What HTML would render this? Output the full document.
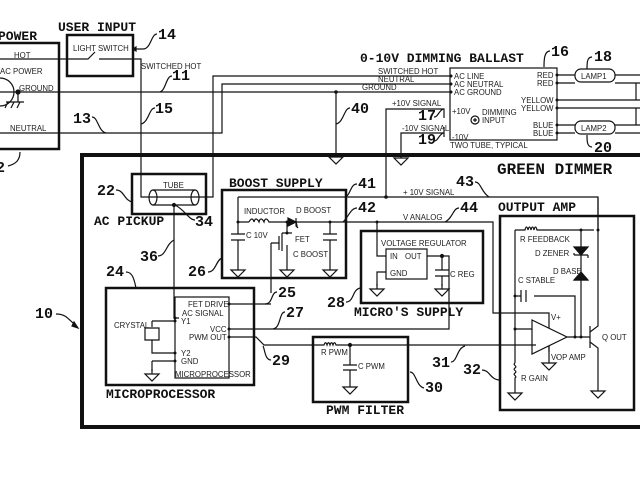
<!DOCTYPE html>
<html><head><meta charset="utf-8"><style>
html,body{margin:0;padding:0;background:#fff;width:640px;height:480px;overflow:hidden}
svg{display:block}
.t{font-family:"Liberation Mono",monospace;font-weight:bold;fill:#111}
.s{font-family:"Liberation Sans",sans-serif;fill:#222;font-size:7.8px}
.n{font-family:"Liberation Mono",monospace;font-weight:bold;font-size:15px;fill:#111}
</style></head><body>
<svg width="640" height="480" viewBox="0 0 640 480" xmlns="http://www.w3.org/2000/svg" fill="none" stroke="#111" stroke-width="1.2">
<defs>
<g id="gnd"><path d="M0 0v5M-7 5h14l-7 7z"/></g>
</defs>
<!-- AC power -->
<text class="t" x="-2" y="40" font-size="13" stroke="none">POWER</text>
<rect x="-5" y="43" width="64" height="106" stroke-width="2.5"/>
<circle cx="0" cy="92" r="14"/>
<circle cx="18" cy="92" r="2" fill="#111"/>
<path d="M18 92v10M6 102h18M8 102l-3 6M14 102l-3 6M20 102l-3 6"/>
<text class="s" x="14" y="58" stroke="none">HOT</text>
<text class="s" x="0" y="74" stroke="none">AC POWER</text>
<text class="s" x="19" y="91" stroke="none">GROUND</text>
<text class="s" x="10" y="131" stroke="none">NEUTRAL</text>
<text class="n" x="-4" y="172" stroke="none">2</text>
<path d="M8 166c8-2 12-6 12-14"/>
<!-- user input -->
<text class="t" x="58" y="31" font-size="13" stroke="none">USER INPUT</text>
<rect x="67" y="35" width="66" height="41" stroke-width="2.5"/>
<text class="s" x="73" y="51" stroke="none">LIGHT SWITCH</text>
<path d="M0 59h88l7-7M99 59h42V197h72V76h237M0 92h450M0 133h222V84h228"/>
<text class="n" x="158" y="39" stroke="none">14</text>
<path d="M157 34c-6 0-6 15-14 15h-8"/><path d="M136 47l-3 2 3 2z" fill="#111"/>
<text class="s" x="141" y="69" stroke="none">SWITCHED HOT</text>
<text class="n" x="172" y="80" stroke="none">11</text>
<path d="M172 76c-6 0-6 14-12 16"/>
<text class="n" x="155" y="113" stroke="none">15</text>
<path d="M155 108c-6 0-6 14-14 16"/>
<text class="n" x="73" y="123" stroke="none">13</text>
<path d="M92 117c6 0 6 14 14 16"/>
<!-- ballast -->
<text class="t" x="360" y="62" font-size="13" stroke="none">0-10V DIMMING BALLAST</text>
<rect x="450" y="68" width="107" height="72"/>
<text class="s" x="378" y="74" stroke="none">SWITCHED HOT</text>
<text class="s" x="378" y="82" stroke="none">NEUTRAL</text>
<text class="s" x="362" y="90" stroke="none">GROUND</text>
<g fill="#111" stroke="none"><circle cx="451" cy="76" r="1.5"/><circle cx="451" cy="84" r="1.5"/><circle cx="451" cy="92" r="1.5"/><circle cx="336" cy="92" r="1.8"/>
<circle cx="557" cy="75" r="1.5"/><circle cx="557" cy="83" r="1.5"/><circle cx="557" cy="100" r="1.5"/><circle cx="557" cy="108" r="1.5"/><circle cx="557" cy="125" r="1.5"/><circle cx="557" cy="133" r="1.5"/></g>
<text class="s" x="454" y="79" stroke="none">AC LINE</text>
<text class="s" x="454" y="87" stroke="none">AC NEUTRAL</text>
<text class="s" x="454" y="95" stroke="none">AC GROUND</text>
<text class="s" x="537" y="78" stroke="none">RED</text>
<text class="s" x="537" y="86" stroke="none">RED</text>
<text class="s" x="521" y="103" stroke="none">YELLOW</text>
<text class="s" x="521" y="111" stroke="none">YELLOW</text>
<text class="s" x="533" y="128" stroke="none">BLUE</text>
<text class="s" x="533" y="136" stroke="none">BLUE</text>
<text class="s" x="452" y="114" stroke="none" font-size="6" fill="#888">+10V</text>
<text class="s" x="452" y="140" stroke="none" font-size="6" fill="#888">-10V</text>
<text class="s" x="482" y="115" stroke="none" font-size="6" fill="#888" font-family="Liberation Mono">DIMMING</text>
<text class="s" x="482" y="123" stroke="none" font-size="6" fill="#888" font-family="Liberation Mono">INPUT</text>
<circle cx="475" cy="120" r="4"/><path d="M473 120h4M475 118v4"/>
<text class="s" x="450" y="148" stroke="none">TWO TUBE, TYPICAL</text>
<text class="n" x="551" y="56" stroke="none">16</text>
<path d="M550 51c-6 0-6 10-6 16"/>
<path d="M557 75h18M557 83h18M615 75h25M615 83h25M557 100h83M557 108h83M557 125h18M557 133h18M615 125h25M615 133h25M636 83v17M636 108v17"/>
<rect x="575" y="69" width="40" height="13" rx="6"/><text class="s" x="581" y="79" stroke="none">LAMP1</text>
<rect x="575" y="121" width="40" height="13" rx="6"/><text class="s" x="581" y="131" stroke="none">LAMP2</text>
<text class="n" x="594" y="61" stroke="none">18</text><path d="M592 57c-5 0-5 6-5 12"/>
<text class="n" x="594" y="152" stroke="none">20</text><path d="M592 147c-5 0-5-6-5-12"/>
<path d="M386 197V109h58v4M401 158V133h43v4M444 113v5M444 137v-10"/>
<text class="s" x="392" y="106" stroke="none">+10V SIGNAL</text>
<text class="s" x="402" y="131" stroke="none">-10V SIGNAL</text>
<text class="n" x="418" y="120" stroke="none">17</text><path d="M434 117c4 0 4-5 9-8"/>
<text class="n" x="418" y="144" stroke="none">19</text><path d="M434 141c4 0 4-5 9-8"/>
<path d="M336 92v60"/><use href="#gnd" x="336" y="152"/>
<use href="#gnd" x="401" y="153"/>
<text class="n" x="351" y="113" stroke="none">40</text><path d="M350 108c-6 0-6 14-14 16"/>
<!-- green dimmer -->
<rect x="82" y="155" width="570" height="272" stroke-width="4"/>
<text class="t" x="497" y="174" font-size="16" stroke="none">GREEN DIMMER</text>
<text class="n" x="35" y="318" stroke="none">10</text><path d="M56 314c8 0 10 2 20 12"/><path d="M74 322l4 6-6-2z" fill="#111"/>
<!-- ac pickup -->
<rect x="132" y="174" width="74" height="40" stroke-width="2.5"/>
<text class="s" x="163" y="188" stroke="none">TUBE</text>
<path d="M153 190h42M153 205h42"/><ellipse cx="153" cy="197.5" rx="4" ry="7.5"/><ellipse cx="195" cy="197.5" rx="4" ry="7.5"/>
<circle cx="174" cy="205" r="1.5" fill="#111"/>
<text class="t" x="94" y="225" font-size="13" stroke="none">AC PICKUP</text>
<text class="n" x="97" y="195" stroke="none">22</text><path d="M116 190c8 0 8 10 16 12"/>
<text class="n" x="195" y="226" stroke="none">34</text><path d="M195 220c-6 0-10-10-20-15"/>
<path d="M174 205V318h5"/>
<text class="n" x="140" y="261" stroke="none">36</text><path d="M158 256c8 0 8-12 16-16"/>
<!-- boost supply -->
<text class="t" x="229" y="187" font-size="13" stroke="none">BOOST SUPPLY</text>
<rect x="222" y="190" width="124" height="88" stroke-width="2.5"/>
<path d="M238 197V222h11M238 222v12M231 234h14M231 240h14M238 240v25"/><use href="#gnd" x="238" y="265"/>
<path d="M249 222c2-4 4-4 5 0c1-4 3-4 5 0c1-4 3-4 5 0c1-4 3-4 5 0h23"/>
<path d="M288 218l8 4-8 4zM296 218v8l2 2" fill="#111"/>
<path d="M292 222h4M296 222h44M330 222v12M323 234h14M323 240h14M330 240v25"/><use href="#gnd" x="330" y="265"/>
<path d="M287 222v10M282 233h10M282 233v18M287 245v20M279 236v14M271 243h8M271 243v50"/><use href="#gnd" x="287" y="265"/>
<g fill="#111" stroke="none"><circle cx="238" cy="222" r="1.5"/><circle cx="287" cy="222" r="1.5"/><circle cx="330" cy="222" r="1.5"/><circle cx="287" cy="233" r="1.5"/><circle cx="386" cy="197" r="1.8"/><circle cx="377" cy="222" r="1.5"/></g>
<text class="s" x="244" y="214" stroke="none">INDUCTOR</text>
<text class="s" x="296" y="213" stroke="none">D BOOST</text>
<text class="s" x="246" y="238" stroke="none">C 10V</text>
<text class="s" x="295" y="242" stroke="none">FET</text>
<text class="s" x="293" y="257" stroke="none">C BOOST</text>
<text class="n" x="188" y="276" stroke="none">26</text><path d="M208 272c8 0 8-12 14-14"/>
<text class="n" x="358" y="188" stroke="none">41</text><path d="M357 184c-6 0-6 8-10 12"/>
<text class="n" x="358" y="212" stroke="none">42</text><path d="M357 208c-6 0-8 8-14 14"/>
<!-- signals -->
<path d="M238 197H598V230M340 222H493V313h56v8"/>
<text class="s" x="403" y="195" stroke="none">+ 10V SIGNAL</text>
<text class="n" x="456" y="186" stroke="none">43</text><path d="M475 182c6 0 6 10 14 15"/>
<text class="s" x="403" y="220" stroke="none">V ANALOG</text>
<text class="n" x="460" y="212" stroke="none">44</text><path d="M459 208c-6 0-6 10-14 14"/>
<!-- micro's supply -->
<rect x="361" y="231" width="122" height="72" stroke-width="2.5"/>
<text class="s" x="381" y="246" stroke="none">VOLTAGE REGULATOR</text>
<rect x="386" y="249" width="41" height="30"/>
<text class="s" x="390" y="259" stroke="none">IN</text><text class="s" x="405" y="259" stroke="none">OUT</text>
<text class="s" x="390" y="276" stroke="none">GND</text>
<path d="M377 222v34h9M386 272h-9v14M427 256h22V329H229M442 256v14M435 270h14M435 276h14M442 276v10"/>
<use href="#gnd" x="377" y="284"/><use href="#gnd" x="442" y="284"/>
<circle cx="442" cy="256" r="1.5" fill="#111"/>
<text class="s" x="450" y="277" stroke="none">C REG</text>
<text class="t" x="354" y="316" font-size="13" stroke="none">MICRO'S SUPPLY</text>
<text class="n" x="327" y="307" stroke="none">28</text><path d="M346 302c8 0 6-12 14-14"/>
<!-- microprocessor -->
<rect x="106" y="288" width="148" height="97" stroke-width="2.5"/>
<rect x="175" y="297" width="54" height="81"/>
<text class="s" x="188" y="307" stroke="none">FET DRIVE</text>
<text class="s" x="182" y="316" stroke="none">AC SIGNAL</text>
<text class="s" x="181" y="324" stroke="none">Y1</text>
<text class="s" x="210" y="332" stroke="none">VCC</text>
<text class="s" x="189" y="340" stroke="none">PWM OUT</text>
<text class="s" x="181" y="356" stroke="none">Y2</text>
<text class="s" x="181" y="364" stroke="none">GND</text>
<text class="s" x="175" y="377" stroke="none">MICROPROCESSOR</text>
<text class="s" x="114" y="328" stroke="none">CRYSTAL</text>
<path d="M229 304H271M152 321h23M152 321v6M145 328h14v12h-14zM152 340v13h23M152 361h23M152 361v10"/>
<use href="#gnd" x="152" y="369"/>
<g fill="#111" stroke="none"><circle cx="229" cy="304" r="1.5"/><circle cx="229" cy="329" r="1.5"/><circle cx="229" cy="337" r="1.5"/><circle cx="175" cy="318" r="1.5"/><circle cx="175" cy="321" r="1.5"/><circle cx="175" cy="353" r="1.5"/><circle cx="175" cy="361" r="1.5"/></g>
<text class="t" x="106" y="398" font-size="13" stroke="none">MICROPROCESSOR</text>
<text class="n" x="106" y="276" stroke="none">24</text><path d="M126 272c6 0 8 6 10 16"/>
<text class="n" x="278" y="297" stroke="none">25</text><path d="M277 292c-6 0-4 12-12 12"/>
<text class="n" x="286" y="317" stroke="none">27</text><path d="M285 312c-6 0-4 16-12 17"/>
<!-- PWM -->
<path d="M229 337h27l8 8h60c1-3 2-3 3 0c1-3 2-3 3 0c1-3 2-3 3 0c1-3 2-3 3 0h200"/>
<text class="n" x="272" y="365" stroke="none">29</text><path d="M271 360c-6 0-6-10-8-14"/>
<rect x="313" y="337" width="95" height="65" stroke-width="2.5"/>
<text class="s" x="321" y="355" stroke="none">R PWM</text>
<path d="M350 345v20M343 365h14M343 370h14M350 370v12"/><use href="#gnd" x="350" y="382"/>
<circle cx="350" cy="345" r="1.5" fill="#111"/>
<text class="s" x="358" y="369" stroke="none">C PWM</text>
<text class="t" x="326" y="414" font-size="13" stroke="none">PWM FILTER</text>
<text class="n" x="425" y="392" stroke="none">30</text><path d="M410 372c6 0 6 14 14 16"/>
<text class="n" x="432" y="367" stroke="none">31</text><path d="M451 362c6 0 6-14 14-16"/>
<!-- output amp -->
<text class="t" x="498" y="211" font-size="13" stroke="none">OUTPUT AMP</text>
<rect x="500" y="216" width="134" height="194" stroke-width="2.5"/>
<path d="M515 230h10c1-4 2-4 3 0c1-4 2-4 3 0c1-4 2-4 3 0c1-4 2-4 3 0h57M515 230v133M515 296h6M515 329h17M515 363c-3 2 3 3 0 5c-3 2 3 3 0 5c-3 2 3 3 0 5v10"/>
<use href="#gnd" x="515" y="388"/>
<path d="M532 320l35 17-35 17zM549 321v7M567 337h23M575 337V296h-41M521 290v12M526 290v12M581 230v107M590 326v22M590 332l8-6V198M590 342l8 6v38"/>
<use href="#gnd" x="598" y="386"/>
<path d="M574 247l7 8 7-8zM574 280l7-8 7 8z" fill="#111"/>
<path d="M574 255h14M574 255v-2M588 255v3M574 280h14"/>
<path d="M549 346v6M549 352v0"/><path d="M549 346v12"/><use href="#gnd" x="549" y="358"/>
<g fill="#111" stroke="none"><circle cx="581" cy="230" r="1.5"/><circle cx="598" cy="230" r="1.5"/><circle cx="515" cy="296" r="1.5"/><circle cx="515" cy="329" r="1.5"/><circle cx="575" cy="337" r="1.5"/><circle cx="581" cy="337" r="1.5"/></g>
<text class="s" x="520" y="242" stroke="none">R FEEDBACK</text>
<text class="s" x="535" y="256" stroke="none">D ZENER</text>
<text class="s" x="553" y="274" stroke="none">D BASE</text>
<text class="s" x="518" y="283" stroke="none">C STABLE</text>
<text class="s" x="602" y="340" stroke="none">Q OUT</text>
<text class="s" x="556" y="360" stroke="none">OP AMP</text>
<text class="s" x="521" y="381" stroke="none">R GAIN</text>
<text class="s" x="551" y="320" stroke="none" font-size="5">V+</text>
<text class="s" x="551" y="360" stroke="none" font-size="5">V-</text>
<text class="n" x="463" y="374" stroke="none">32</text><path d="M482 370c8 0 8 10 18 10"/>
</svg>
</body></html>
